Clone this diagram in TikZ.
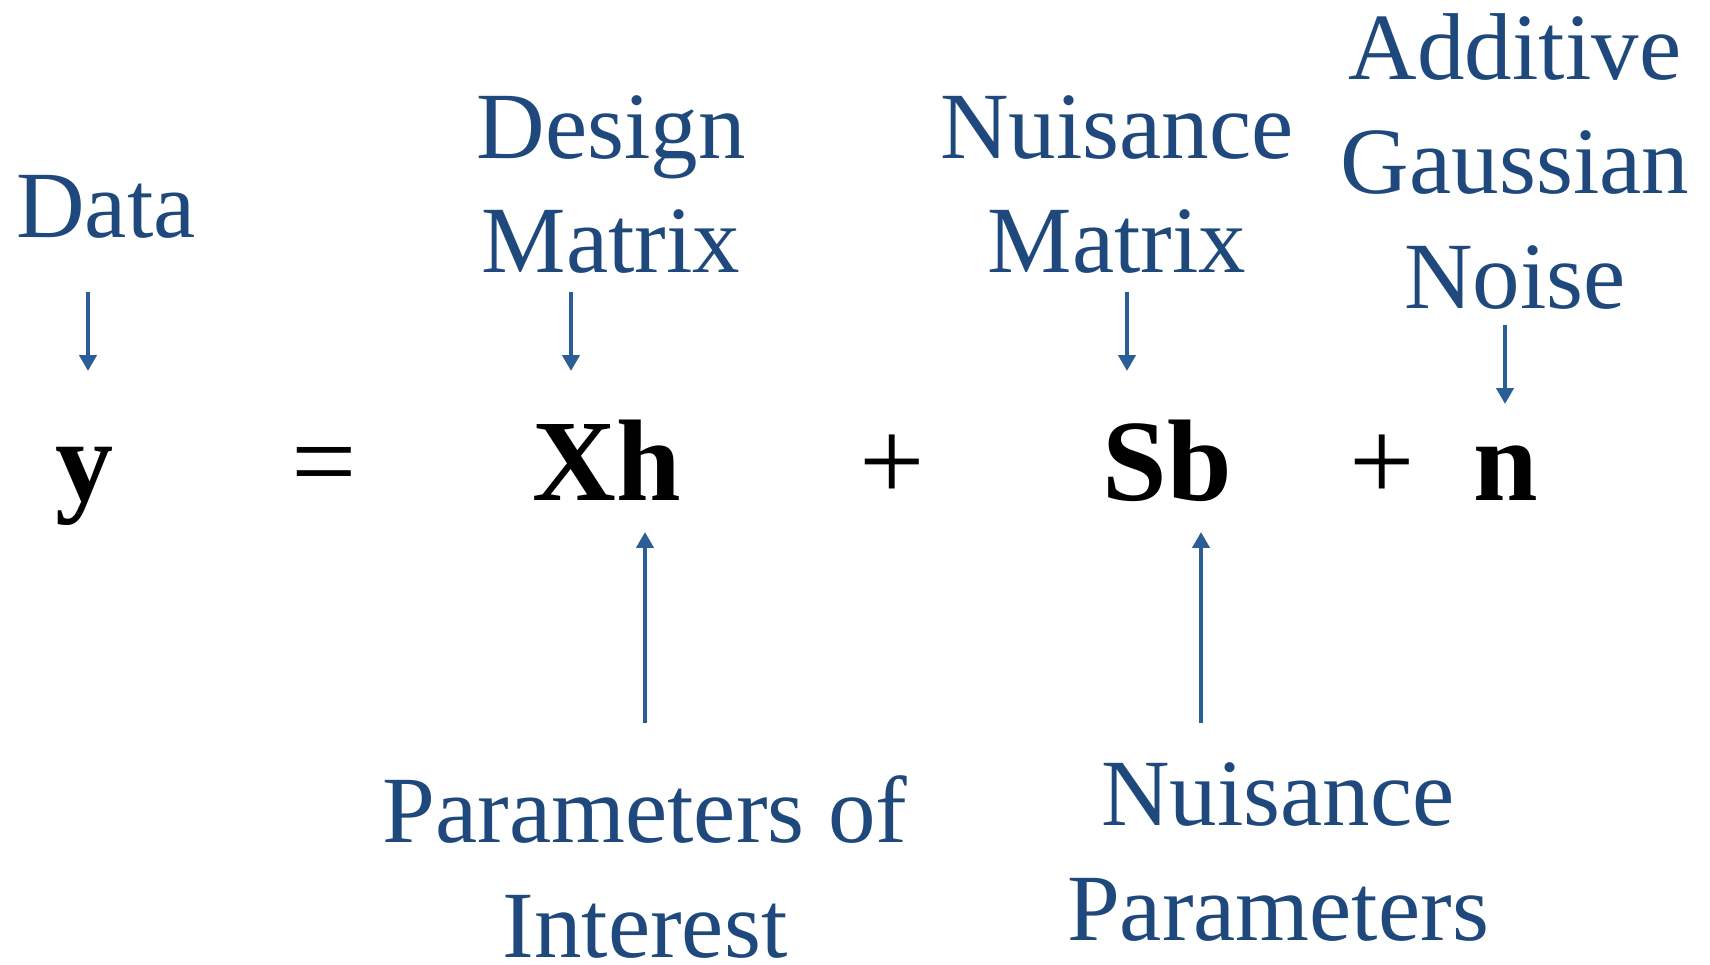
\documentclass[tikz,border=0pt]{standalone}
\usepackage{fontspec}
\setmainfont{Liberation Serif}
\usepackage{tikz}
\usetikzlibrary{arrows.meta}
\definecolor{labelblue}{HTML}{1F497D}
\definecolor{arrowblue}{HTML}{2B5E96}
\tikzset{
    label text/.style={text=labelblue, align=center, anchor=base, inner sep=0pt, font=\fontsize{27}{32.5}\selectfont},
    term/.style={text=black, anchor=base, inner sep=0pt, font=\fontsize{33}{40}\selectfont},
    arrow/.style={draw=arrowblue, line width=1.35pt, -{Triangle[length=4.5pt, width=4.8pt]}}
}
\begin{document}
\begin{tikzpicture}[x=0.01cm, y=-0.01cm]
    \useasboundingbox (0,0) rectangle (1710,964);

    % Equation
    \node[term] (y) at (85,500) {\textbf{y}};
    \node[term] (eq) at (324,500) {=};
    \node[term] (xh) at (607,500) {\textbf{Xh}};
    \node[term] (plusa) at (892,500) {+};
    \node[term] (sb) at (1167,500) {\textbf{Sb}};
    \node[term] (plusb) at (1382,500) {+};
    \node[term] (n) at (1506,500) {\textbf{n}};

    % Labels above (base = last line)
    \node[label text] (data) at (106,238) {Data};
    \node[label text] (design) at (611,273) {Design\\Matrix};
    \node[label text] (nuismat) at (1117,273) {Nuisance\\Matrix};
    \node[label text] (noise) at (1515,308) {Additive\\Gaussian\\Noise};

    % Labels below
    \node[label text] (params) at (645,957) {Parameters of\\Interest};
    \node[label text] (nuispar) at (1278,940) {Nuisance\\Parameters};

    % Arrow ends
    \coordinate (dataA) at (88,292);   \coordinate (yA) at (88,371);
    \coordinate (designA) at (571,292); \coordinate (xA) at (571,371);
    \coordinate (nuismatA) at (1127,292); \coordinate (sA) at (1127,371);
    \coordinate (noiseA) at (1505,325); \coordinate (nA) at (1505,404);
    \coordinate (paramsA) at (645,723); \coordinate (hA) at (645,532);
    \coordinate (nuisparA) at (1201,723); \coordinate (bA) at (1201,532);

    \draw[arrow] (dataA) -- (yA);
    \draw[arrow] (designA) -- (xA);
    \draw[arrow] (nuismatA) -- (sA);
    \draw[arrow] (noiseA) -- (nA);
    \draw[arrow] (paramsA) -- (hA);
    \draw[arrow] (nuisparA) -- (bA);
\end{tikzpicture}
\end{document}
